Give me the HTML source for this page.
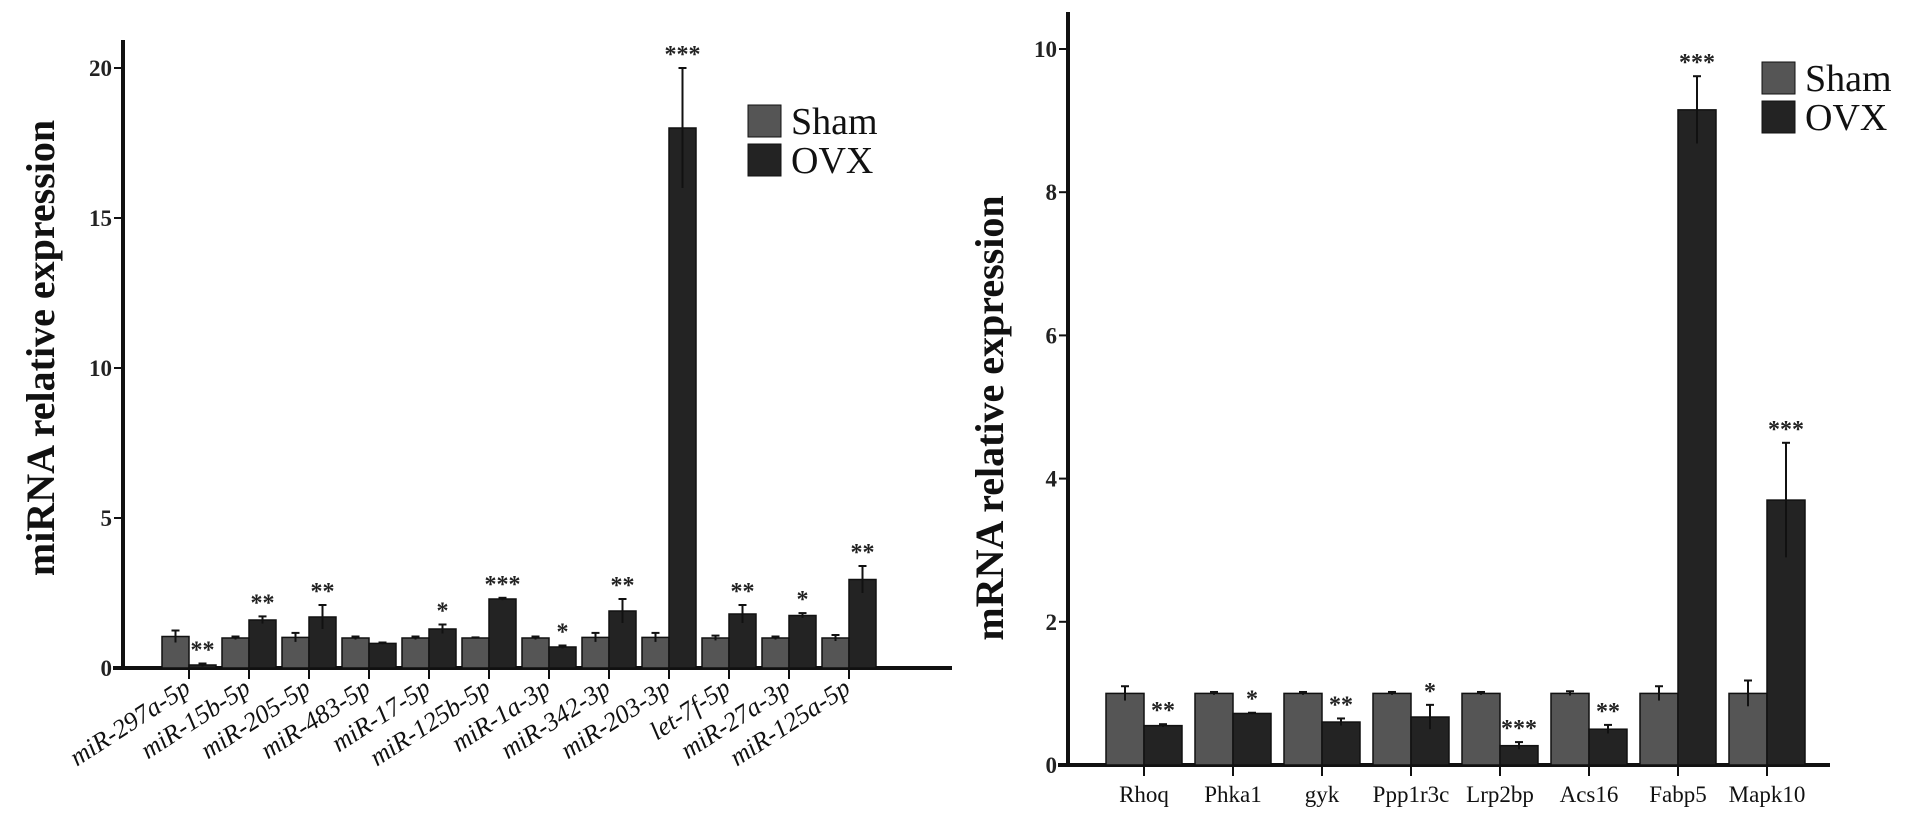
<!DOCTYPE html>
<html><head><meta charset="utf-8"><style>
body{margin:0;background:#fff}
svg{display:block;font-family:"Liberation Serif",serif}
</style></head><body>
<svg id="c" width="1913" height="816" viewBox="0 0 1913 816"></svg>
<script>
const leftCats=["miR-297a-5p","miR-15b-5p","miR-205-5p","miR-483-5p","miR-17-5p","miR-125b-5p","miR-1a-3p","miR-342-3p","miR-203-3p","let-7f-5p","miR-27a-3p","miR-125a-5p"];
const leftSham=[1.05,1,1.02,1,1,1,1,1.02,1.02,1,1,1];
const leftShamErr=[0.2,0.05,0.15,0.05,0.05,0.02,0.05,0.15,0.15,0.08,0.05,0.1];
const leftOvx=[0.1,1.6,1.7,0.82,1.3,2.3,0.7,1.9,18,1.8,1.75,2.95];
const leftOvxErr=[0.05,0.12,0.4,0.03,0.15,0.04,0.05,0.4,2.0,0.3,0.08,0.45];
const leftSig=["**","**","**","","*","***","*","**","***","**","*","**"];
const leftTicks=[0,5,10,15,20];
const rightCats=["Rhoq","Phka1","gyk","Ppp1r3c","Lrp2bp","Acs16","Fabp5","Mapk10"];
const rightSham=[1,1,1,1,1,1,1,1];
const rightShamErr=[0.1,0.02,0.02,0.02,0.02,0.03,0.1,0.18];
const rightOvx=[0.55,0.72,0.6,0.67,0.27,0.5,9.15,3.7];
const rightOvxErr=[0.02,0.01,0.05,0.17,0.05,0.06,0.47,0.8];
const rightSig=["**","*","**","*","***","**","***","***"];
const rightTicks=[0,2,4,6,8,10];

const svg=document.getElementById('c');
const NS="http://www.w3.org/2000/svg";
function el(t,a,p){const e=document.createElementNS(NS,t);for(const k in a)e.setAttribute(k,a[k]);(p||svg).appendChild(e);return e;}

function chart(o){
  const g=el('g',{});
  
  
  const y=v=>o.y0-(v/o.ymax)*(o.y0-o.ytop);
  const cx=i=>o.first+i*o.step;
  const ya=el('line',{x1:o.ax,y1:o.axTop,x2:o.ax,y2:o.y0+2,stroke:'#111','stroke-width':4},g);
  
  const xa=el('line',{x1:o.ax-10,y1:o.y0,x2:o.axEnd,y2:o.y0,stroke:'#111','stroke-width':4},g);
  
  o.ticks.forEach(t=>{
    el('line',{x1:o.ax-9,y1:y(t),x2:o.ax,y2:y(t),stroke:'#111','stroke-width':2},g);
    const tx=el('text',{x:o.ax-11,y:y(t)+8,'text-anchor':'end','font-size':23,'font-weight':'bold',fill:'#222'},g);
    tx.textContent=t;
    
  });
  const tt=el('text',{transform:`translate(${o.titleX},${o.titleY}) rotate(-90)`,'text-anchor':'middle','font-size':40,'font-weight':'bold',fill:'#111'},g);
  tt.textContent=o.title;
  
  o.cats.forEach((c,i)=>{
    const x=cx(i),w=o.bw;
    const bars=[[o.sham[i],o.shamErr[i],x-w,'#555','sham'],[o.ovx[i],o.ovxErr[i],x,'#232323','ovx']];
    bars.forEach(b=>{
      const r=el('rect',{x:b[2],y:y(b[0]),width:w,height:o.y0-y(b[0]),fill:b[3],stroke:'#111','stroke-width':1.5},g);
      
      const m=b[2]+w/2;
      el('line',{x1:m,y1:y(b[0]+b[1]),x2:m,y2:y(Math.max(0,b[0]-b[1])),stroke:'#111','stroke-width':2},g);
      el('line',{x1:m-4,y1:y(b[0]+b[1]),x2:m+4,y2:y(b[0]+b[1]),stroke:'#111','stroke-width':2},g);
    });
    if(o.sig[i]){
      const s=el('text',{x:x+w/2,y:y(o.ovx[i]+o.ovxErr[i])-6,'text-anchor':'middle','font-size':24,'font-weight':'bold',fill:'#222'},g);
      s.textContent=o.sig[i];
      
    }
    el('line',{x1:x,y1:o.y0,x2:x,y2:o.y0+11,stroke:'#111','stroke-width':2},g);
    let lab;
    if(o.rot){
      lab=el('text',{transform:`translate(${x+3},${o.y0+24}) rotate(-33)`,'text-anchor':'end','font-size':26,'font-style':'italic',fill:'#111'},g);
    } else {
      lab=el('text',{x:x,y:o.y0+37,'text-anchor':'middle','font-size':23,fill:'#111'},g);
    }
    lab.textContent=c;
    
  });
  [['Sham','#555',o.legY],['OVX','#232323',o.legY+39]].forEach(L=>{
    const r=el('rect',{x:o.legX,y:L[2],width:33,height:32,fill:L[1],stroke:'#111'},g);
    
    const t=el('text',{x:o.legX+43,y:L[2]+29,'font-size':38,fill:'#111'},g);
    t.textContent=L[0];
    
  });
}
chart({name:'mirna-chart',cats:leftCats,sham:leftSham,shamErr:leftShamErr,ovx:leftOvx,ovxErr:leftOvxErr,sig:leftSig,ticks:leftTicks,
  ax:123,axTop:40,axEnd:952,y0:668,ytop:68,ymax:20,first:189,step:60,bw:27,rot:true,
  title:'miRNA relative expression',titleX:54,titleY:348,legX:748,legY:105});
chart({name:'mrna-chart',cats:rightCats,sham:rightSham,shamErr:rightShamErr,ovx:rightOvx,ovxErr:rightOvxErr,sig:rightSig,ticks:rightTicks,
  ax:1068,axTop:12,axEnd:1830,y0:765,ytop:49,ymax:10,first:1144,step:89,bw:38,rot:false,
  title:'mRNA relative expression',titleX:1003,titleY:418,legX:1762,legY:62});
</script>
</body></html>
